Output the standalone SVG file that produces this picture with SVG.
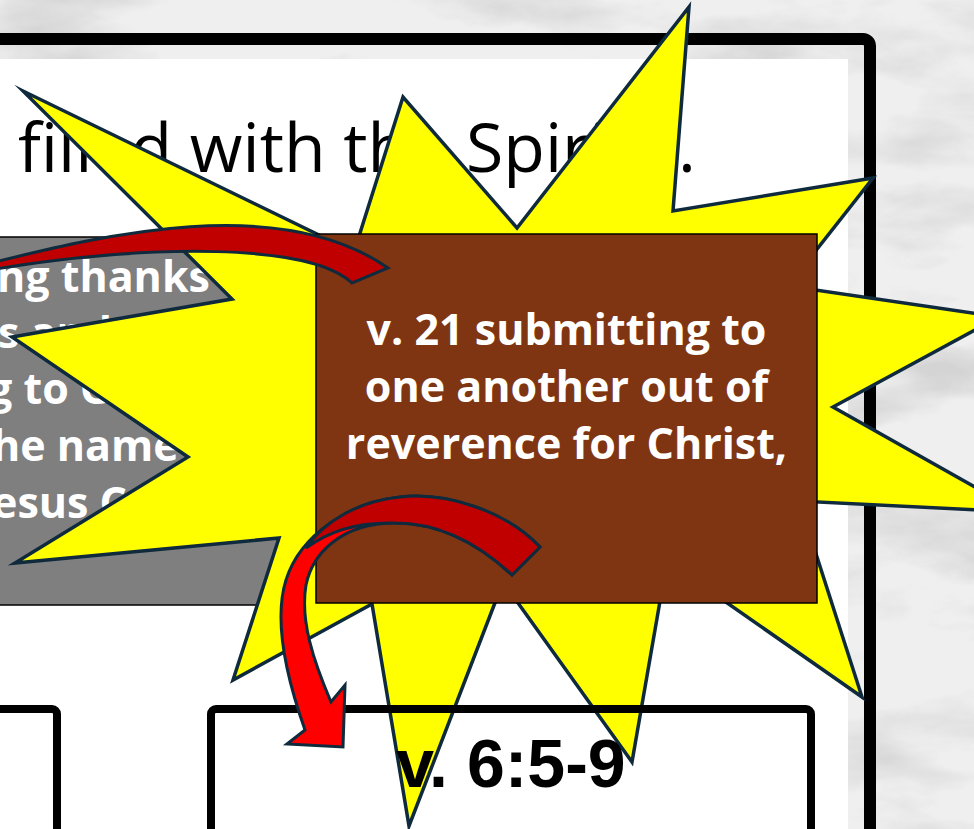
<svg xmlns="http://www.w3.org/2000/svg" width="974" height="829" viewBox="0 0 974 829">
  <defs>
    <filter id="marble" x="0" y="0" width="100%" height="100%">
      <feTurbulence type="fractalNoise" baseFrequency="0.005 0.012" numOctaves="5" seed="11" result="n"/>
      <feColorMatrix in="n" type="matrix" values="0 0 0 0 0.6  0 0 0 0 0.6  0 0 0 0 0.6  3 0 0 0 -1.45"/>
    </filter>
    <style>
      .burst { fill: #ffff00; stroke: #0f2a3d; stroke-width: 3.5; stroke-linejoin: miter; stroke-miterlimit: 10; }
      .arrow { stroke: #0f2a3d; stroke-width: 3; stroke-linejoin: miter; }
      .dark { fill: #c00000; }
      .bright { fill: #ff0000; }
      .box { fill: none; stroke: #000; stroke-width: 8; }
      .wtxt { font-family: "Open Sans", "Liberation Sans", sans-serif; font-weight: 700; font-size: 43px; fill: #ffffff; }
    </style>
  </defs>

  <!-- marble background -->
  <rect x="0" y="0" width="974" height="829" fill="#efefef"/>
  <rect x="0" y="0" width="974" height="829" fill="#ffffff" filter="url(#marble)" opacity="0.75"/>

  <!-- frame and panel -->
  <rect id="frame" x="-40" y="39" width="910" height="900" rx="7" fill="none" stroke="#000" stroke-width="12"/>
  <rect id="panel" x="-10" y="59" width="858" height="800" fill="#ffffff"/>

  <g id="title">
    <text x="18" y="172" font-family="'Open Sans', 'Liberation Sans', sans-serif" font-size="68" fill="#000">filled with the <tspan x="466">Spirit</tspan><tspan x="678">.</tspan></text>
  </g>

  <g id="gray-box">
    <rect x="-10" y="237" width="340" height="368" fill="#7f7f7f" stroke="#000" stroke-width="1.5"/>
    <text class="wtxt" x="-3" y="292">ng thanks</text>
    <text class="wtxt" x="-2" y="348">s and</text>
    <text class="wtxt" x="-12" y="404">g to G</text>
    <text class="wtxt" x="-8" y="461">he name</text>
    <text class="wtxt" x="-8" y="518">esus C</text>
  </g>

  <g id="starburst">
    <polygon class="burst" points="23,91 354,252 403,97 517,228 689,7 673,211 873,178 788,286 999,317 833,407 1019,512 799,501 862,697 667,561 632,762 503,582 409,826 372,604 233,680 279,538 15,563 188,457 12,337 232,299"/>
  </g>

  <g id="box-left">
    <rect class="box" x="-100" y="709" width="157" height="300" rx="5"/>
  </g>

  <g id="box-verse">
    <rect class="box" x="211" y="709" width="600" height="300" rx="5"/>
    <text x="511" y="787" text-anchor="middle" font-family="'Liberation Sans', Arial, sans-serif" font-weight="700" font-size="68" fill="#000">v. 6:5-9</text>
  </g>

  <g id="brown-box">
    <rect x="316" y="234" width="501" height="369" fill="#803512" stroke="#000" stroke-width="1.5"/>
    <text class="wtxt" x="566.5" y="345" text-anchor="middle">v. 21 submitting to</text>
    <text class="wtxt" x="566.5" y="402" text-anchor="middle">one another out of</text>
    <text class="wtxt" x="566.5" y="459" text-anchor="middle">reverence for Christ,</text>
  </g>

  <g id="connectors">
    <path class="arrow dark" d="M -5,262 C 100,236 280,192 388,268 L 352,283 C 310,243 150,244 -5,269 Z"/>
    <path class="arrow bright" d="M 540,547 C 505,510 445,492 400,497 C 350,502 300,535 286,580 C 275,615 282,665 305,730 L 287,744 L 343,747 L 345,685 L 331,702 C 313,660 300,620 306,585 C 312,555 340,523 395,523 C 440,523 480,545 512,575 Z"/>
    <path class="arrow dark" d="M 540,547 C 505,510 445,492 400,497 C 360,501 325,520 306,548 C 330,530 360,522 395,523 C 440,523 480,545 512,575 Z"/>
  </g>
</svg>
